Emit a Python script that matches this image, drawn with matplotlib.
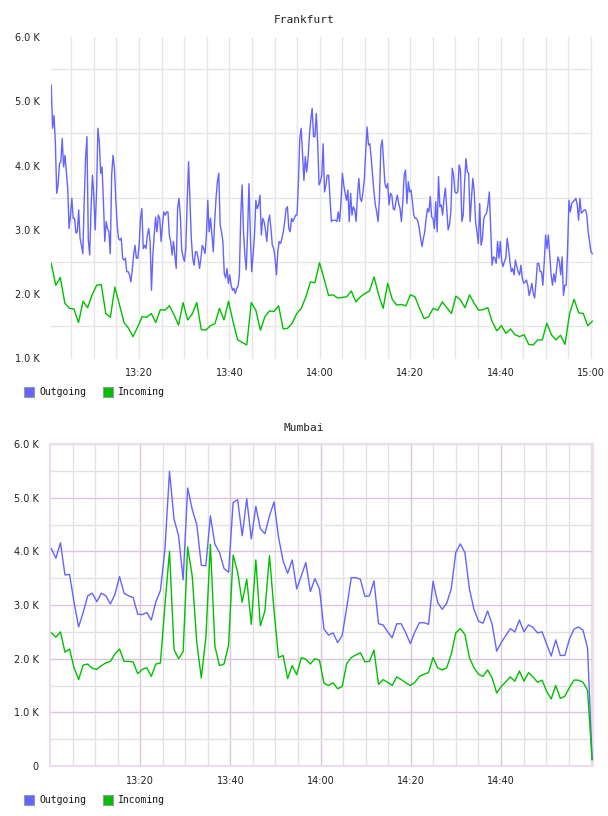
import numpy as np
import matplotlib
matplotlib.use('Agg')
import matplotlib.pyplot as plt
from matplotlib.patches import Rectangle

# minutes after 13:00, values in K
frankfurt_outgoing = [
    5.25, 4.58, 4.78, 4.37, 3.57, 3.70, 4.03, 4.06, 4.42, 3.98, 4.16, 3.90, 3.65, 3.02, 3.23, 3.49,
    3.18, 3.18, 2.95, 2.97, 3.31, 2.87, 2.76, 2.63, 3.44, 4.11, 4.45, 2.84, 2.61, 3.33, 3.85, 3.54,
    3.00, 3.59, 4.58, 4.37, 3.88, 3.98, 3.44, 2.82, 3.13, 3.02, 2.97, 2.63, 3.85, 4.16, 3.96, 3.49,
    3.08, 2.87, 2.84, 2.87, 2.56, 2.53, 2.56, 2.35, 2.35, 2.30, 2.19, 2.38, 2.61, 2.76, 2.56, 2.56,
    2.76, 3.18, 3.33, 2.71, 2.76, 2.71, 2.92, 3.02, 2.82, 2.06, 2.61, 2.92, 3.20, 2.97, 3.23, 3.18,
    2.82, 3.08, 3.28, 3.23, 3.28, 3.28, 2.92, 2.82, 2.61, 2.82, 2.61, 2.40, 3.33, 3.49,
    3.23, 2.69, 2.58, 2.51, 2.71, 3.44, 4.06, 3.44, 2.87, 2.56, 2.45, 2.66, 2.66, 2.56, 2.40, 2.56,
    2.76, 2.71, 2.63, 2.92, 3.46, 2.97, 3.18, 2.92, 2.66, 3.13, 3.49, 3.75, 3.88, 3.08, 2.97, 2.82,
    2.32, 2.25, 2.40, 2.17, 2.30, 2.14, 2.06, 2.09, 2.01, 2.09, 2.12, 2.30, 3.23, 3.70, 2.97, 2.61,
    2.38, 2.97, 3.72, 2.92, 2.35, 2.61, 2.92, 3.46, 3.33, 3.39, 3.54, 2.92, 3.18, 3.13, 3.00, 2.82,
    3.13, 3.23, 3.02, 2.76, 2.71, 2.56, 2.30, 2.66, 2.82, 2.79, 2.87, 2.97, 3.13, 3.33, 3.36, 3.02,
    2.97, 3.18, 3.13, 3.18, 3.23, 3.23, 3.75, 4.42, 4.58, 4.16, 3.77, 4.14, 3.90, 4.11, 4.47, 4.71,
    4.89, 4.45, 4.45, 4.81, 4.37, 3.70, 3.75, 3.85, 4.34, 3.59, 3.70, 3.85, 3.85, 3.49, 3.13, 3.15,
    3.15, 3.15, 3.13, 3.28, 3.13, 3.44, 3.88, 3.70, 3.57, 3.46, 3.62, 3.13, 3.57, 3.23, 3.36, 3.31,
    3.13, 3.54, 3.80, 3.49, 3.44, 3.59, 3.80, 4.22, 4.60, 4.32, 4.34, 4.11, 3.85, 3.59, 3.39, 3.28,
    3.13, 3.49, 4.29, 4.40, 4.06, 3.72, 3.65, 3.72, 3.39, 3.57, 3.54, 3.33, 3.31, 3.44, 3.54, 3.41,
    3.33, 3.13, 3.44, 3.85, 3.93, 3.41, 3.75, 3.59, 3.62, 3.44, 3.23, 3.18, 3.18, 3.13, 3.02, 2.87,
    2.74, 2.87, 2.97, 3.18, 3.33, 3.28, 3.52, 3.20, 3.18, 3.02, 3.44, 2.97, 3.83, 3.36, 3.39, 3.23,
    3.49, 3.65, 3.33, 3.00, 3.08, 3.28,
    3.96, 3.85, 3.59, 3.57, 3.59, 4.01, 3.93, 3.13, 3.23, 3.75, 4.11, 3.90, 3.88, 3.13, 3.49, 3.80,
    3.59, 3.13, 2.97, 2.79, 3.41, 2.76, 2.87, 3.18, 3.23, 3.26, 3.39, 3.59, 3.02, 2.45, 2.58, 2.56,
    2.48, 2.82, 2.56, 2.82, 2.51, 2.43, 2.51, 2.56, 2.87, 2.71, 2.51, 2.35, 2.40, 2.30, 2.53, 2.43,
    2.35, 2.30, 2.45, 2.25, 2.17, 2.19, 2.22, 2.14, 1.98, 2.06, 2.17, 2.01, 1.94, 2.19, 2.48, 2.48,
    2.35, 2.35, 2.14, 2.51, 2.92, 2.71, 2.92, 2.61, 2.30, 2.14, 2.32, 2.19, 2.40, 2.58, 2.51, 2.30,
    2.58, 1.98, 2.14, 2.14, 2.71, 3.46, 3.28, 3.41, 3.44, 3.46, 3.49, 3.39, 3.15, 3.49, 3.26, 3.28,
    3.31, 3.31, 3.23, 2.97, 2.82, 2.66, 2.63,
]
frankfurt_incoming = [
    2.48, 2.14, 2.26, 1.86, 1.78, 1.77, 1.56, 1.89, 1.79, 1.99, 2.14, 2.15, 1.70, 1.64, 2.11, 1.84,
    1.56, 1.47, 1.34, 1.49, 1.65, 1.64, 1.70, 1.56, 1.76, 1.75, 1.82, 1.68, 1.52, 1.87,
    1.60, 1.69, 1.87, 1.45, 1.44, 1.51, 1.54, 1.78, 1.60, 1.89, 1.57, 1.29, 1.25, 1.21, 1.87, 1.75,
    1.44, 1.65, 1.74, 1.73, 1.82, 1.46, 1.47, 1.55, 1.70, 1.78, 1.96, 2.19, 2.18, 2.49,
    2.24, 1.98, 1.99, 1.94, 1.95, 1.96, 2.05, 1.88, 1.96, 2.01, 2.05, 2.27, 1.99, 1.78, 2.17, 1.92,
    1.83, 1.84, 1.82, 1.99, 1.96, 1.78, 1.62, 1.65, 1.78, 1.75, 1.88, 1.79, 1.70, 1.97,
    1.91, 1.79, 1.99, 1.86, 1.75, 1.76, 1.79, 1.57, 1.43, 1.51, 1.39, 1.46, 1.37, 1.34, 1.37, 1.22,
    1.21, 1.29, 1.29, 1.55, 1.37, 1.29, 1.36, 1.22, 1.70, 1.92, 1.71, 1.70, 1.51, 1.58,
]
mumbai_outgoing = [
    4.05, 3.87, 4.16, 3.56, 3.57, 3.05, 2.59, 2.86, 3.17, 3.22, 3.06, 3.22, 3.17, 3.02, 3.20, 3.53,
    3.22, 3.17, 3.14, 2.83, 2.82, 2.86, 2.72, 3.06, 3.27, 4.04, 5.49, 4.60, 4.29, 3.47, 5.18, 4.78,
    4.50, 3.74, 3.73, 4.66, 4.13, 3.98, 3.68, 3.61, 4.91, 4.96, 4.29, 4.98, 4.23, 4.84, 4.42, 4.33,
    4.66, 4.92, 4.26, 3.82, 3.59, 3.84, 3.30, 3.54, 3.79, 3.25,
    3.49, 3.30, 2.55, 2.44, 2.48, 2.30, 2.43, 2.95, 3.51, 3.51, 3.48, 3.16, 3.17, 3.45, 2.65, 2.63,
    2.50, 2.39, 2.65, 2.65, 2.48, 2.28, 2.50, 2.67, 2.67, 2.64, 3.44, 3.05, 2.92, 3.03, 3.30, 3.98,
    4.14, 3.98, 3.30, 2.92, 2.70, 2.66, 2.89, 2.64, 2.14, 2.30, 2.43, 2.56, 2.50, 2.72, 2.50, 2.63,
    2.58, 2.48, 2.50, 2.27, 2.05, 2.35, 2.06, 2.06, 2.36, 2.55, 2.59, 2.53, 2.20, 0.12,
]
mumbai_incoming = [
    2.48, 2.40, 2.50, 2.12, 2.18, 1.83, 1.61, 1.88, 1.90, 1.82, 1.80, 1.87, 1.92, 1.95, 2.09, 2.18,
    1.95, 1.95, 1.94, 1.72, 1.80, 1.83, 1.67, 1.90, 1.92, 3.00, 4.00, 2.17, 2.00, 2.13, 4.08, 3.54,
    2.30, 1.64, 2.39, 4.13, 2.23, 1.87, 1.90, 2.25, 3.93, 3.61, 3.05, 3.48, 2.64, 3.84, 2.61, 2.89,
    3.92, 2.90, 2.02, 2.06, 1.63, 1.87, 1.70, 2.02, 1.99, 1.90,
    2.00, 1.97, 1.54, 1.50, 1.55, 1.44, 1.48, 1.91, 2.02, 2.07, 2.11, 1.94, 1.95, 2.16, 1.52, 1.61,
    1.56, 1.50, 1.66, 1.61, 1.55, 1.50, 1.56, 1.67, 1.71, 1.74, 2.02, 1.83, 1.79, 1.83, 2.08, 2.48,
    2.56, 2.45, 2.02, 1.83, 1.71, 1.67, 1.79, 1.64, 1.36, 1.48, 1.57, 1.66, 1.58, 1.77, 1.58, 1.74,
    1.66, 1.56, 1.60, 1.39, 1.25, 1.50, 1.26, 1.30, 1.46, 1.60, 1.60, 1.56, 1.41, 0.12,
]

time_ticks = [20, 40, 60, 80, 100, 120]
time_labels = ['13:20', '13:40', '14:00', '14:20', '14:40', '15:00']

out_color = '#6464ff'
in_color = '#00c000'
W, H = 608, 816

fig = plt.figure(figsize=(W / 100, H / 100), dpi=100)
fig.patch.set_facecolor('white')

def axes_px(l, t, r, b):
    return fig.add_axes([l / W, 1 - b / H, (r - l) / W, (b - t) / H])

def legend_px(y):
    for x0, col, label in [(24, out_color, 'Outgoing'), (103, in_color, 'Incoming')]:
        fig.patches.append(Rectangle((x0 / W, 1 - (y + 5) / H), 10 / W, 10 / H,
                                     transform=fig.transFigure, facecolor=col,
                                     edgecolor='#999999', linewidth=0.8))
        fig.text((x0 + 15) / W, 1 - y / H, label, family='DejaVu Sans Mono',
                 fontsize=7, va='center', ha='left', color='#111111')

def style_ticks(ax):
    ax.tick_params(which='both', length=0, labelsize=7, colors='#222222')
    ax.tick_params(axis='x', pad=7)
    ax.tick_params(axis='y', pad=8)
    ax.set_axisbelow(True)

# ---- Frankfurt
ax1 = axes_px(51, 37, 593, 358.5)
t_out = np.linspace(0.6, 120.3, len(frankfurt_outgoing))
t_in = np.linspace(0.6, 120.3, len(frankfurt_incoming))
ax1.plot(t_out, frankfurt_outgoing, color=out_color, lw=1.0, zorder=3)
ax1.plot(t_in, frankfurt_incoming, color=in_color, lw=1.0, zorder=3)
ax1.set_xlim(0.55, 120.45)
ax1.set_ylim(1.0, 6.0)
ax1.set_xticks(time_ticks)
ax1.set_xticklabels(time_labels)
ax1.set_xticks(np.arange(5, 121, 5), minor=True)
ax1.set_yticks(np.arange(1, 7))
ax1.set_yticklabels([f'{v:.1f} K' for v in range(1, 7)])
ax1.set_yticks(np.arange(1.5, 6, 1.0), minor=True)
ax1.grid(which='both', axis='x', color='#e6e6e6', lw=1.0)
ax1.grid(which='minor', axis='y', color='#e6e6e6', lw=1.0)
for s in ax1.spines.values():
    s.set_visible(False)
style_ticks(ax1)
fig.text(0.5, 1 - 20 / H, 'Frankfurt', family='DejaVu Sans Mono', fontsize=8,
         ha='center', va='center', color='#222222')
legend_px(392)

# ---- Mumbai
ax2 = axes_px(50, 444, 593, 766)
t_out2 = np.linspace(0.3, 120.2, len(mumbai_outgoing))
t_in2 = np.linspace(0.3, 120.2, len(mumbai_incoming))
ax2.plot(t_out2, mumbai_outgoing, color=out_color, lw=1.0, zorder=3)
ax2.plot(t_in2, mumbai_incoming, color=in_color, lw=1.0, zorder=3)
ax2.set_xlim(0.0, 120.4)
ax2.set_ylim(0.0, 6.0)
ax2.set_xticks(time_ticks[:-1])
ax2.set_xticklabels(time_labels[:-1])
ax2.set_xticks(np.arange(5, 121, 5), minor=True)
ax2.set_yticks(np.arange(0, 7))
ax2.set_yticklabels(['0'] + [f'{v:.1f} K' for v in range(1, 7)])
ax2.set_yticks(np.arange(0.5, 6, 1.0), minor=True)
ax2.grid(which='minor', color='#e2e2e2', lw=1.0)
ax2.grid(which='major', color='#dcc4dc', lw=1.0)
for s in ax2.spines.values():
    s.set_color('#eedcee')
    s.set_linewidth(1.5)
style_ticks(ax2)
fig.text(0.5, 1 - 428 / H, 'Mumbai', family='DejaVu Sans Mono', fontsize=8,
         ha='center', va='center', color='#222222')
legend_px(800)

fig.savefig('out.png', dpi=100, facecolor='white')
